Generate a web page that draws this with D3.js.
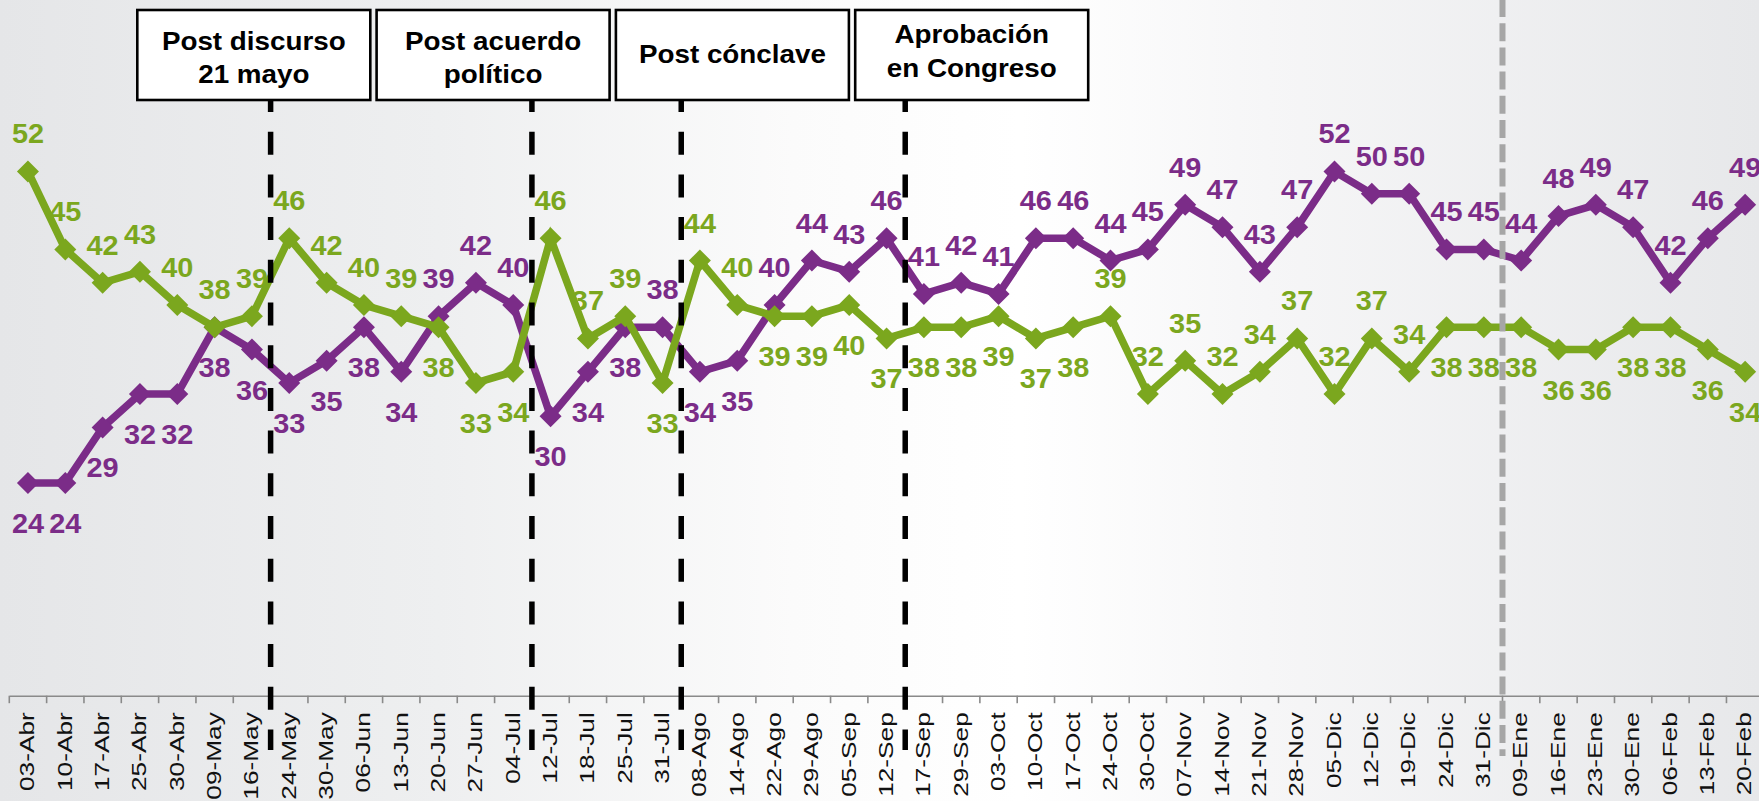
<!DOCTYPE html>
<html><head><meta charset="utf-8">
<script src="https://cdn.jsdelivr.net/npm/d3@7"></script>
<style>html,body{margin:0;padding:0;overflow:hidden;background:#fff}</style>
</head><body>
<svg id="c" width="1759" height="801"></svg>
<script>
// ---- data ----
const categories = ["03-Abr","10-Abr","17-Abr","25-Abr","30-Abr","09-May","16-May","24-May","30-May","06-Jun","13-Jun","20-Jun","27-Jun","04-Jul","12-Jul","18-Jul","25-Jul","31-Jul","08-Ago","14-Ago","22-Ago","29-Ago","05-Sep","12-Sep","17-Sep","29-Sep","03-Oct","10-Oct","17-Oct","24-Oct","30-Oct","07-Nov","14-Nov","21-Nov","28-Nov","05-Dic","12-Dic","19-Dic","24-Dic","31-Dic","09-Ene","16-Ene","23-Ene","30-Ene","06-Feb","13-Feb","20-Feb"];
const purpleValues = [24,24,29,32,32,38,36,33,35,38,34,39,42,40,30,34,38,38,34,35,40,44,43,46,41,42,41,46,46,44,45,49,47,43,47,52,50,50,45,45,44,48,49,47,42,46,49];
const greenValues  = [52,45,42,43,40,38,39,46,42,40,39,38,33,34,46,37,39,33,44,40,39,39,40,37,38,38,39,37,38,39,32,35,32,34,37,32,37,34,38,38,38,36,36,38,38,36,34];
const eventLabels = [["Post discurso","21 mayo"],["Post acuerdo","político"],["Post cónclave"],["Aprobación","en Congreso"]];
const eventStarts = ["24-May","12-Jul","08-Ago","17-Sep"];   // first survey after each event
const yearBreak = "09-Ene";
const greenLabelAboveFrom = "24-Oct", greenLabelAboveTo = "19-Dic";

// ---- layout ----
const W = 1759, H = 801, axisY = 695.7;
const purple = "#7b2c88", green = "#7ba71e";
const svg = d3.select("#c");

const defs = svg.append("defs");
const lg = defs.append("linearGradient").attr("id","bg").attr("x1","0").attr("x2","1").attr("y1","0").attr("y2","0");
[[0,"#e5e6e8"],[0.25,"#eeeff0"],[0.45,"#fbfbfb"],[0.58,"#ffffff"],[0.72,"#f6f6f7"],[1,"#e7e8ea"]]
  .forEach(([o,c]) => lg.append("stop").attr("offset",o).attr("stop-color",c));
svg.append("rect").attr("width",W).attr("height",H).attr("fill","url(#bg)");

const x = d3.scaleBand().domain(categories).range([9.3, 1763.8]).padding(0);
const y = d3.scaleLinear().domain([4.9, 65]).range([axisY, axisY - 60.1*11.13]);
const cx = c => x(c) + x.bandwidth()/2;

// axis
const axis = d3.axisBottom(x).tickSize(0).tickSizeOuter(0);
const ag = svg.append("g").attr("transform",`translate(0,${axisY})`).call(axis);
ag.select(".domain").attr("stroke","#8a8a8a").attr("stroke-width",1.6);
ag.selectAll(".tick text")
  .attr("x",0).attr("y",0).attr("dy","0.3em")
  .attr("text-anchor","end")
  .attr("transform","translate(0,16.5) rotate(-90) scale(1.25,1)")
  .style("font-family","'Liberation Sans', Arial, sans-serif")
  .style("font-size","21px").attr("fill","#111");
const bounds = categories.map(c => x(c)).concat([x(categories[categories.length-1]) + x.bandwidth()]);
svg.append("g").selectAll("line").data(bounds).join("line")
  .attr("x1",d=>d).attr("x2",d=>d).attr("y1",axisY).attr("y2",axisY+7.5)
  .attr("stroke","#8a8a8a").attr("stroke-width",1.6);

// series
const diamond = "M0,-11L11,0L0,11L-11,0Z";
function drawSeries(vals, color) {
  const line = d3.line().x((d,i)=>cx(categories[i])).y(d=>y(d));
  svg.append("path").datum(vals).attr("d",line).attr("fill","none")
    .attr("stroke",color).attr("stroke-width",7.5).attr("stroke-linejoin","miter");
  svg.append("g").selectAll("path").data(vals).join("path")
    .attr("d",diamond).attr("fill",color)
    .attr("transform",(d,i)=>`translate(${cx(categories[i])},${y(d)})`);
}
drawSeries(purpleValues, purple);
drawSeries(greenValues, green);

// event lines
svg.append("g").selectAll("line").data(eventStarts).join("line")
  .attr("x1",d=>x(d)).attr("x2",d=>x(d)).attr("y1",100).attr("y2",750)
  .attr("stroke","#000").attr("stroke-width",5.5)
  .attr("stroke-dasharray","23 19.7").attr("stroke-dashoffset",11);
svg.append("line").attr("x1",x(yearBreak)).attr("x2",x(yearBreak)).attr("y1",0).attr("y2",756)
  .attr("stroke","#a6a6a6").attr("stroke-width",6)
  .attr("stroke-dasharray","18 6.2").attr("stroke-dashoffset",1);

// boxes
const boxX0 = 137.3, boxStep = 239.3, boxW = 233, boxTop = 10, boxH = 90;
const baselines = [[50,83.3],[50,83.3],[63.3],[42.5,77]];
const bg = svg.append("g").selectAll("g").data(eventLabels).join("g")
  .attr("transform",(d,i)=>`translate(${boxX0 + i*boxStep},${boxTop})`);
bg.append("rect").attr("width",boxW).attr("height",boxH).attr("fill","#fff")
  .attr("stroke","#000").attr("stroke-width",2.6);
bg.each(function(d,i){
  const g = d3.select(this);
  d.forEach((t,j)=>{
    g.append("text").text(t)
      .attr("text-anchor","middle")
      .attr("transform",`translate(${boxW/2},${baselines[i][j]-boxTop}) scale(1.07,1)`)
      .style("font-family","'Liberation Sans', Arial, sans-serif")
      .style("font-weight","bold").style("font-size","26px").attr("fill","#000");
  });
});

// data labels
const iFrom = categories.indexOf(greenLabelAboveFrom), iTo = categories.indexOf(greenLabelAboveTo);
function greenAbove(i){ return greenValues[i] >= purpleValues[i] || (i>=iFrom && i<=iTo); }
function drawLabels(vals, color, aboveFn) {
  svg.append("g").selectAll("text").data(vals).join("text")
    .text(d=>d)
    .attr("text-anchor","middle")
    .attr("transform",(d,i)=>`translate(${cx(categories[i])},${y(d) + (aboveFn(i) ? -28 : 50)}) scale(1.07,1)`)
    .style("font-family","'Liberation Sans', Arial, sans-serif")
    .style("font-weight","bold").style("font-size","27px").attr("fill",color);
}
drawLabels(purpleValues, purple, i => !(greenValues[i] >= purpleValues[i]));
drawLabels(greenValues, green, greenAbove);
</script>
</body></html>
